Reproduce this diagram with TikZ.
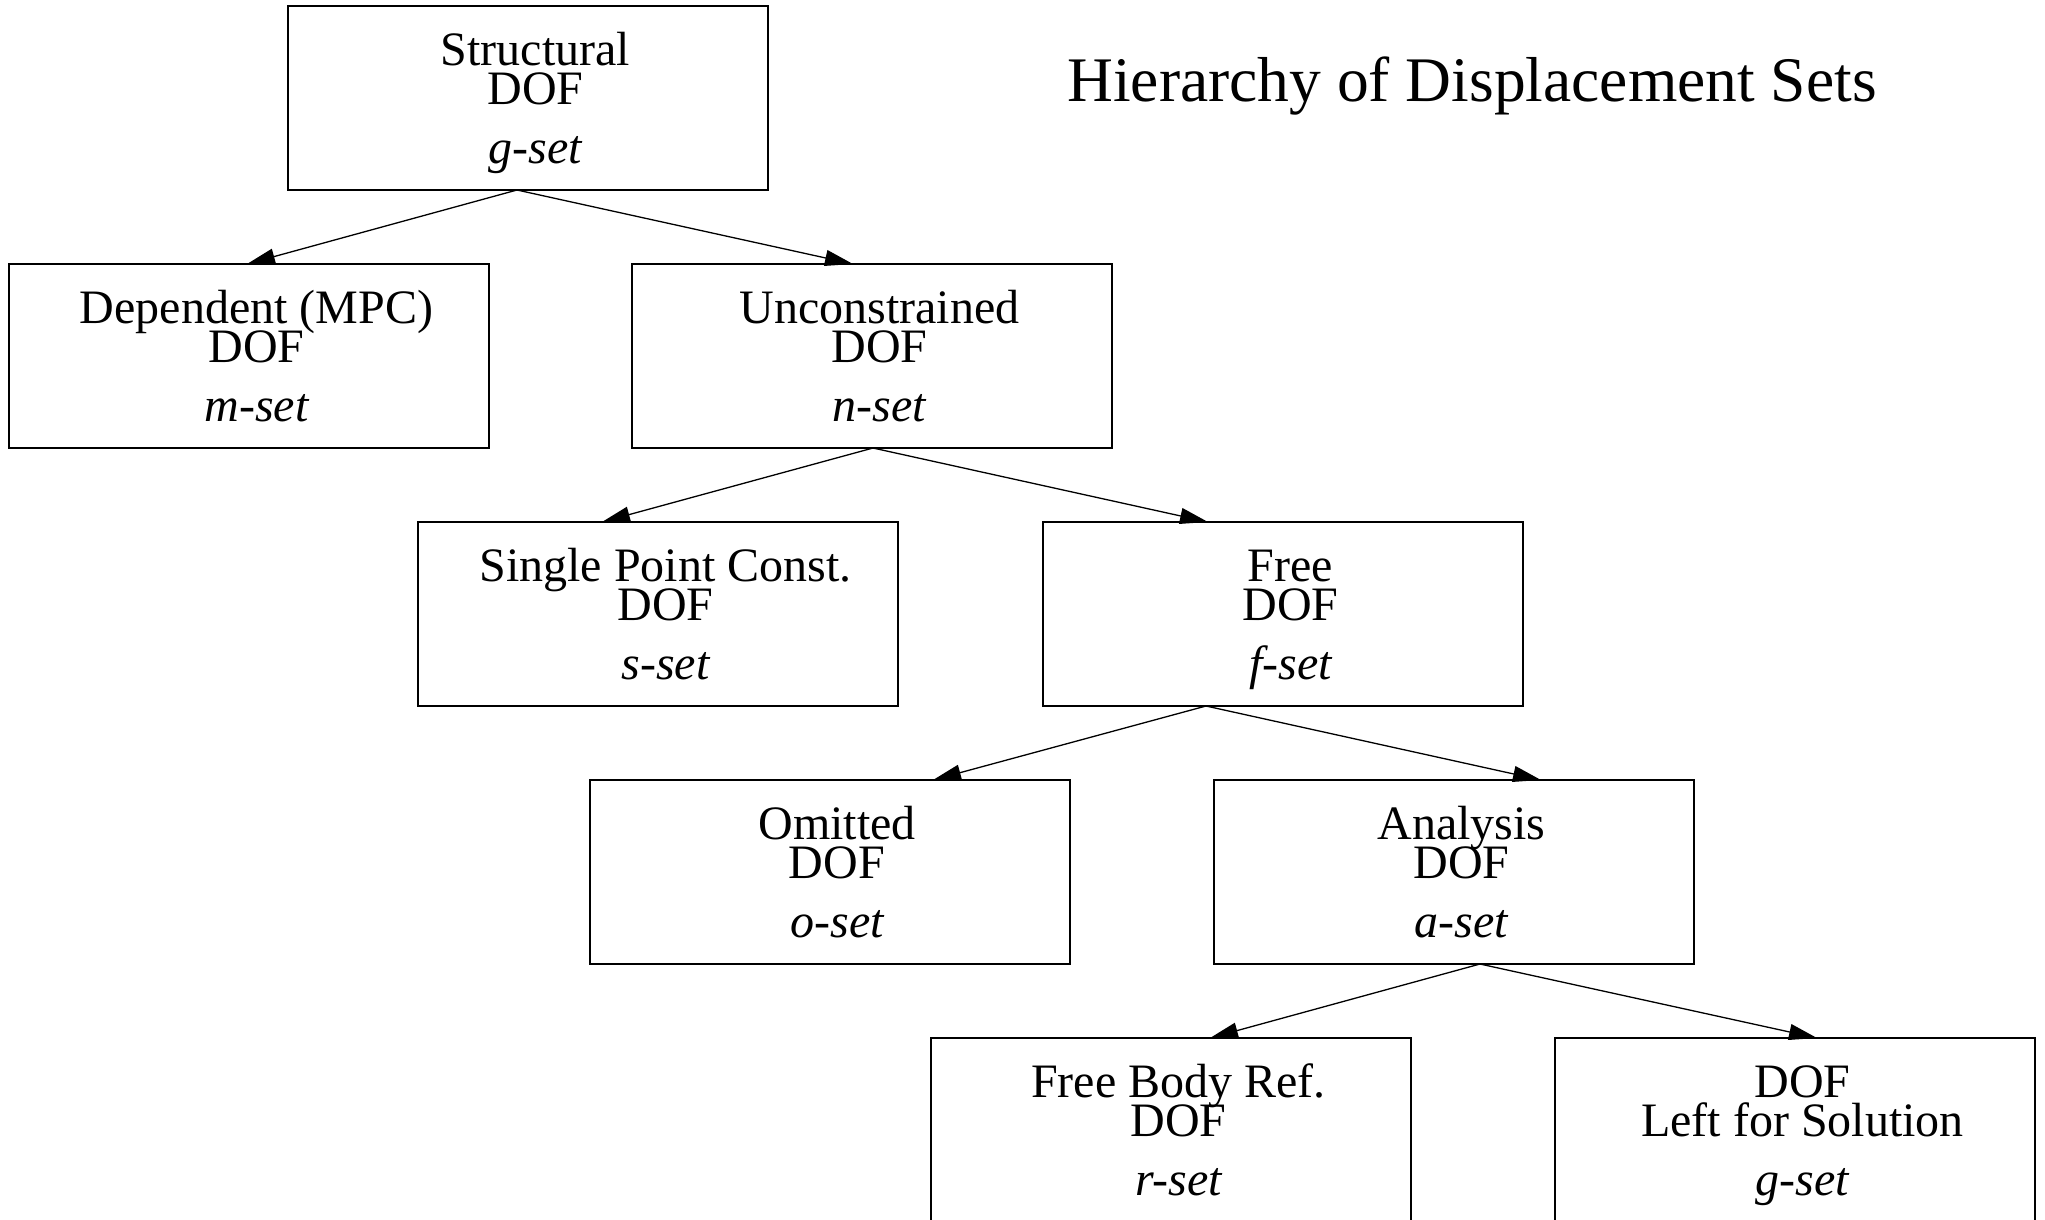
\documentclass[tikz,border=0pt]{standalone}
\usepackage{fontspec}
\setmainfont{Liberation Serif}
\usetikzlibrary{arrows.meta,calc}
\tikzset{
  setbox/.style={draw, line width=2pt, minimum width=480pt, minimum height=184pt,
    anchor=north west, inner sep=0pt, outer sep=0pt},
  boxtext/.style={anchor=base, inner sep=0pt, font=\fontsize{48}{50}\selectfont},
  link/.style={line width=1.3pt, -{Triangle[length=28pt,width=16pt]}},
  titletext/.style={anchor=base, inner sep=0pt, font=\fontsize{63.5}{70}\selectfont}
}
\newcommand\setnode[6]{%
  \node[setbox] (#1) at (#2,#3) {};
  \node[boxtext] (#1-a) at ($(#1.north)+(7.5,59)$) {#4};
  \node[boxtext] (#1-b) at ($(#1.north)+(7.5,98)$) {#5};
  \node[boxtext] (#1-c) at ($(#1.north)+(7.5,157)$) {\itshape #6};
}
\begin{document}
\begin{tikzpicture}[x=1pt,y=-1pt]
\useasboundingbox (0,0) rectangle (2045,1219);
\clip (0,0) rectangle (2045,1219);
\node[titletext] (title) at (1472,101) {Hierarchy of Displacement Sets};
\setnode{g}{288}{6}{Structural}{DOF}{g-set}
\setnode{m}{9}{264}{Dependent (MPC)}{DOF}{m-set}
\setnode{n}{632}{264}{Unconstrained}{DOF}{n-set}
\setnode{s}{418}{522}{Single Point Const.}{DOF}{s-set}
\setnode{f}{1043}{522}{Free}{DOF}{f-set}
\setnode{o}{589.5}{780}{Omitted}{DOF}{o-set}
\setnode{a}{1214}{780}{Analysis}{DOF}{a-set}
\setnode{r}{931}{1038}{Free Body Ref.}{DOF}{r-set}
\setnode{l}{1555}{1038}{DOF}{Left for Solution}{g-set}
\draw[link] ([xshift=229pt]g.south west) -- ([xshift=238pt]m.north west);
\draw[link] ([xshift=229pt]g.south west) -- ([xshift=221pt]n.north west);
\draw[link] ([xshift=241pt]n.south west) -- ([xshift=184pt]s.north west);
\draw[link] ([xshift=241pt]n.south west) -- ([xshift=165pt]f.north west);
\draw[link] ([xshift=163pt]f.south west) -- ([xshift=343.5pt]o.north west);
\draw[link] ([xshift=163pt]f.south west) -- ([xshift=327pt]a.north west);
\draw[link] ([xshift=266pt]a.south west) -- ([xshift=279pt]r.north west);
\draw[link] ([xshift=266pt]a.south west) -- ([xshift=262pt]l.north west);
\end{tikzpicture}
\end{document}
